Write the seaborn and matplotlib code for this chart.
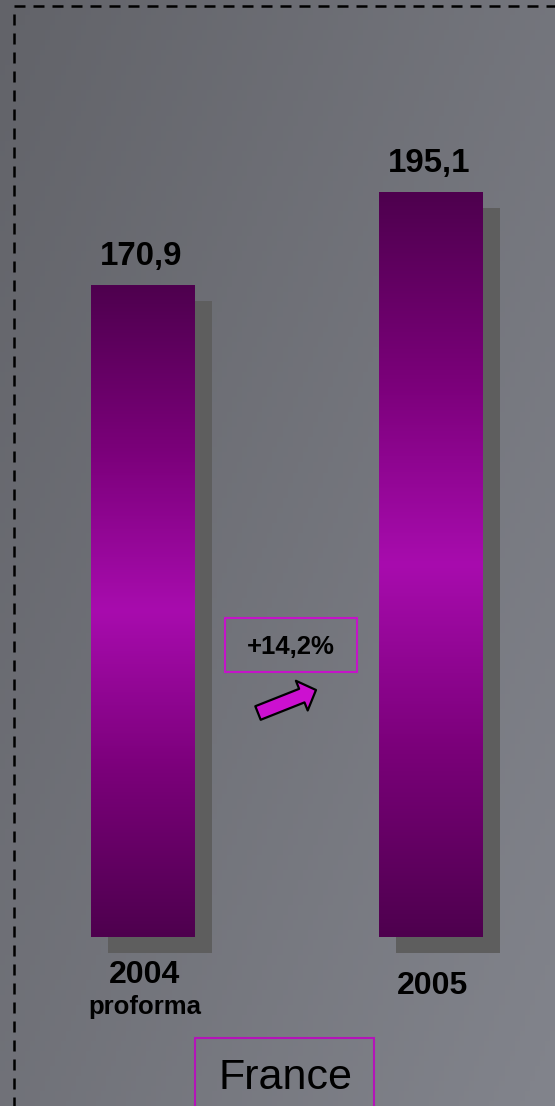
import numpy as np
import pandas as pd
import matplotlib
matplotlib.use("Agg")
import matplotlib.pyplot as plt
import matplotlib.transforms as mtransforms
from matplotlib.colors import LinearSegmentedColormap
from matplotlib.patches import Rectangle
from matplotlib.lines import Line2D
import seaborn as sns

# ---- data ----
years = ["2004", "2005"]
sublabels = ["proforma", ""]
values = [170.9, 195.1]
value_labels = ["170,9", "195,1"]
growth_label = "+14,2%"
region_label = "France"

# ---- canvas ----
W, H, DPI = 555, 1106, 100
sns.set_theme(style="white")
plt.rcParams["font.family"] = ["Liberation Sans", "DejaVu Sans"]

fig = plt.figure(figsize=(W / DPI, H / DPI), dpi=DPI)

# grey slide background, darker towards the top-left
bg = fig.add_axes([0, 0, 1, 1], zorder=0)
yy, xx = np.mgrid[0:1:220j, 0:1:110j]
t = 0.55 * xx + 0.45 * yy
c0 = np.array([98, 99, 105]) / 255
c1 = np.array([130, 132, 140]) / 255
bg.imshow(c0 + (c1 - c0) * t[..., None], aspect="auto",
          extent=[0, 1, 0, 1], origin="upper")
bg.set_xlim(0, 1)
bg.set_ylim(0, 1)
bg.axis("off")

# ---- bars ----
ax = fig.add_axes([0, 0, 1, 1], zorder=1)
ax.patch.set_alpha(0)
df = pd.DataFrame({"year": years, "value": values})
sns.barplot(data=df, x="year", y="value", ax=ax, width=0.361,
            color="#A80CAE", saturation=1, errorbar=None)

px_per_unit = 3.8175
base_px = 169
xlim = (-143 / 288, (W - 143) / 288)
ylim = (-base_px / px_per_unit, (H - base_px) / px_per_unit)
ax.axis("off")

bar_cmap = LinearSegmentedColormap.from_list(
    "bar", ["#4E004E", "#7A0079", "#A80CAE", "#7A0079", "#4E004E"])
grad = np.linspace(0, 1, 256)[:, None]
shadow_tr = ax.transData + mtransforms.ScaledTranslation(
    17 / DPI, -16 / DPI, fig.dpi_scale_trans)

for patch in list(ax.patches):
    x0, y0 = patch.get_x(), patch.get_y()
    w, h = patch.get_width(), patch.get_height()
    shadow = Rectangle((x0, y0), w, h, transform=shadow_tr,
                       facecolor="#5E5E5E", edgecolor="none", zorder=1)
    ax.add_patch(shadow)
    im = ax.imshow(grad, cmap=bar_cmap, aspect="auto",
                   extent=[x0, x0 + w, y0, y0 + h], origin="upper", zorder=2)
    im.set_clip_path(patch)
    patch.set_facecolor("none")
    patch.set_edgecolor("none")
    patch.set_zorder(3)

ax.set_xlim(*xlim)
ax.set_ylim(*ylim)

# value labels above bars
for i, (v, lab) in enumerate(zip(values, value_labels)):
    ax.annotate(lab, xy=(i, v), xytext=(-2, 20), textcoords="offset pixels",
                ha="center", va="baseline", fontsize=23.8,
                fontweight="bold", color="black", zorder=5)

# category labels below bars
year_offsets = [-46, -57]
for i, (yr, sub) in enumerate(zip(years, sublabels)):
    ax.annotate(yr, xy=(i, 0), xytext=(2, year_offsets[i]),
                textcoords="offset pixels", ha="center", va="baseline",
                fontsize=23, fontweight="bold", color="black")
    if sub:
        ax.annotate(sub, xy=(i, 0), xytext=(2, -77),
                    textcoords="offset pixels", ha="center", va="baseline",
                    fontsize=18.5, fontweight="bold", color="black")


def fpx(x, y):
    return (x / W, y / H)


# ---- growth box and arrow ----
fig.patches.append(Rectangle(fpx(225, 434), 132 / W, 54 / H,
                             transform=fig.transFigure, facecolor="none",
                             edgecolor="#C414C8", linewidth=1.5, zorder=5))
fig.text(*fpx(291, 459), growth_label, ha="center", va="center",
         fontsize=18.5, fontweight="bold", color="black", zorder=6)

ax.annotate("", xy=(316, 416), xytext=(258, 393),
            xycoords="figure pixels", textcoords="figure pixels",
            arrowprops=dict(arrowstyle="simple,head_length=1.1,head_width=2.3,tail_width=1.05",
                            mutation_scale=10, facecolor="#CC10D0",
                            edgecolor="black", linewidth=1.6,
                            shrinkA=0, shrinkB=0), zorder=6)

# ---- region box ----
fig.patches.append(Rectangle(fpx(195, -10), 179 / W, 78 / H,
                             transform=fig.transFigure, facecolor="none",
                             edgecolor="#B414B8", linewidth=1.5, zorder=5))
fig.text(*fpx(285, 28), region_label, ha="center", va="center",
         fontsize=31, color="black", zorder=6)

# ---- dashed frame ----
dash = dict(color="black", linewidth=1.8, linestyle=(0, (4.4, 3.2)),
            transform=fig.transFigure, zorder=10)
fig.lines.append(Line2D([14 / W, 1.0], [1 - 6 / H, 1 - 6 / H], **dash))
fig.lines.append(Line2D([13.5 / W, 13.5 / W], [1 - 14 / H, 0.0], **dash))

fig.savefig("out.png", dpi=DPI)
